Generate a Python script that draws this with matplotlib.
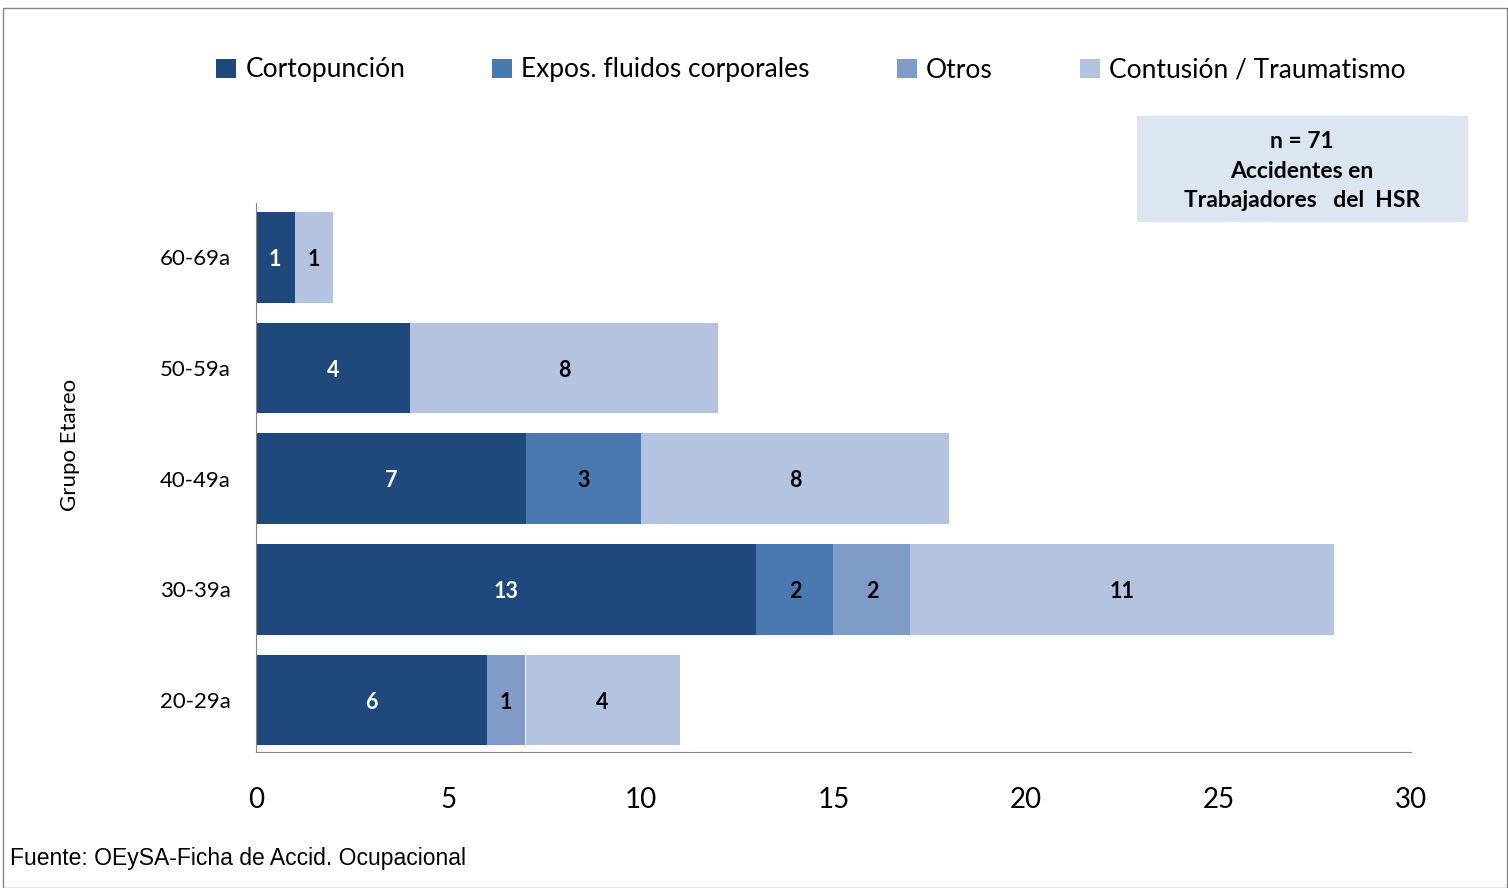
import matplotlib.pyplot as plt
from matplotlib.patches import Rectangle

# data
grupos = ['20-29a', '30-39a', '40-49a', '50-59a', '60-69a']
cortopuncion = [6, 13, 7, 4, 1]
expos_fluidos = [0, 2, 3, 0, 0]
otros = [1, 2, 0, 0, 0]
contusion = [4, 11, 8, 8, 1]

series = [
    ('Cortopunción', cortopuncion, '#1f497d', 'white'),
    ('Expos. fluidos corporales', expos_fluidos, '#4a78b0', 'black'),
    ('Otros', otros, '#7f9cc8', 'black'),
    ('Contusión / Traumatismo', contusion, '#b4c3df', 'black'),
]

plt.rcParams['font.family'] = ['Lato', 'DejaVu Sans']

fig = plt.figure(figsize=(15.08, 8.88), dpi=100)
ax = fig.add_axes([256/1508, 1-752/888, (1411-256)/1508, (752-203)/888])

left = [0] * len(grupos)
handles = []
for name, vals, color, tcolor in series:
    bars = ax.barh(range(len(grupos)), vals, left=left, height=0.82,
                   color=color, label=name)
    handles.append(bars)
    for i, v in enumerate(vals):
        if v > 0:
            ax.text(left[i] + v / 2, i - 0.02, str(v), ha='center', va='center',
                    color=tcolor, fontsize=15.5, fontweight='bold')
    left = [l + v for l, v in zip(left, vals)]

ax.set_xlim(0, 30)
ax.set_ylim(-0.47, 4.49)
ax.set_xticks([0, 5, 10, 15, 20, 25, 30])
ax.set_yticks(range(len(grupos)))
ax.set_yticklabels(grupos)
ax.tick_params(axis='x', length=0, labelsize=20, pad=25)
ax.tick_params(axis='y', length=0, labelsize=16, pad=18)
for s in ['top', 'right']:
    ax.spines[s].set_visible(False)
for s in ['left', 'bottom']:
    ax.spines[s].set_color('#868686')
ax.set_ylabel('Grupo Etareo', fontsize=16)
ax.yaxis.set_label_coords((80 - 256) / 1155, (752 - 445) / 549)

fig.legend(handles=handles, loc='center', bbox_to_anchor=(811/1508, 1-70/888),
           ncol=4, frameon=False, fontsize=19, handlelength=0.75,
           handleheight=0.75, handletextpad=0.35, columnspacing=3.3)

# info box
fig.patches.append(Rectangle((1137/1508, 1-221/888), 330/1508, 105/888,
                             transform=fig.transFigure, color='#dce6f2'))
fig.text(1302/1508, 1-171/888, 'n = 71\nAccidentes en\nTrabajadores   del  HSR',
         ha='center', va='center', fontsize=16.5, fontweight='bold',
         linespacing=1.5)

fig.text(10/1508, 1-858/888, 'Fuente: OEySA-Ficha de Accid. Ocupacional',
         ha='left', va='center', fontsize=16.5, family='Liberation Sans')

# outer frame
fig.patches.append(Rectangle((3/1508, 0), 1504/1508, 1-8/888,
                             transform=fig.transFigure, fill=False,
                             edgecolor='#868686', linewidth=1))

fig.savefig('out.png', dpi=100)
